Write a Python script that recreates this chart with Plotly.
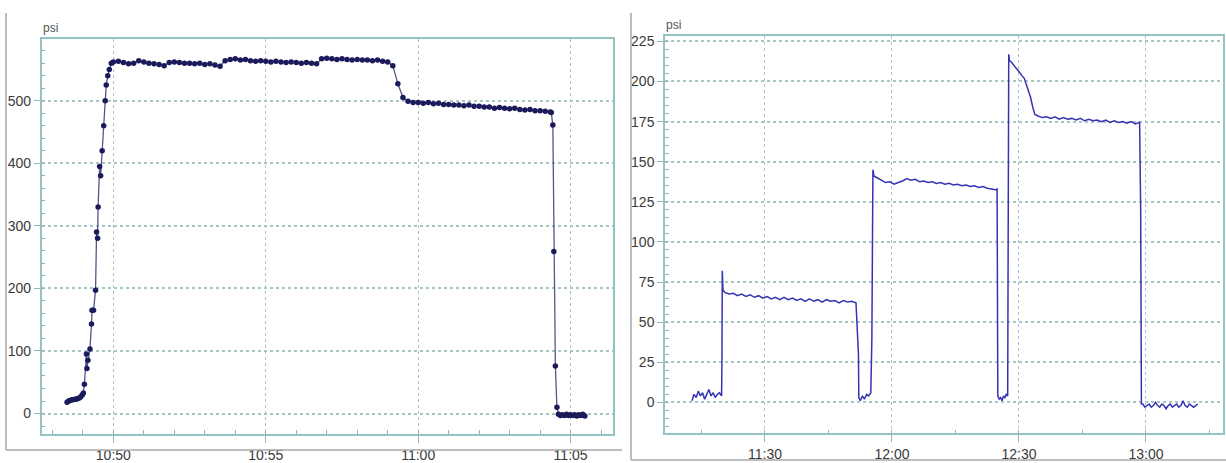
import pandas as pd
import plotly.graph_objects as go

DAY = "2021-01-01 "

# ---------------- Left chart data (psi) ----------------
left_rise_times = ["10:48:29", "10:48:32", "10:48:35", "10:48:38", "10:48:41", "10:48:44", "10:48:47",
                   "10:48:50", "10:48:53", "10:48:56", "10:48:59", "10:49:01", "10:49:03", "10:49:07",
                   "10:49:08", "10:49:10", "10:49:14", "10:49:17", "10:49:18", "10:49:21", "10:49:25",
                   "10:49:27", "10:49:29", "10:49:30", "10:49:33", "10:49:35", "10:49:38", "10:49:41",
                   "10:49:44", "10:49:46", "10:49:49", "10:49:52", "10:49:56"]
left_rise_vals = [18, 20, 21, 22, 22, 23, 23, 24, 25, 27, 30, 33, 47, 95, 72, 85, 103, 143, 165, 165, 197,
                  290, 280, 330, 395, 380, 420, 460, 500, 525, 540, 550, 560]

left_plateau_start = "10:50:00"   # 10 s samples
left_plateau_vals = [562, 563, 561, 559, 560, 564,
                     562, 560, 559, 558, 556, 561,
                     562, 561, 560, 560, 559, 560,
                     558, 559, 557, 555, 564, 566,
                     567, 565, 566, 564, 563, 564,
                     563, 562, 563, 562, 561, 562,
                     561, 560, 561, 560, 559, 567,
                     568, 567, 566, 567, 566, 565,
                     566, 565, 565, 564, 565, 563,
                     562, 556, 527, 505, 499, 497,
                     497, 496, 497, 495, 496, 494,
                     494, 493, 493, 492, 493, 491,
                     491, 490, 490, 488, 489, 488,
                     487, 488, 486, 485, 486, 484,
                     484, 483, 482]

left_drop_times = ["11:04:22", "11:04:25", "11:04:27", "11:04:30", "11:04:33"]
left_drop_vals = [481, 461, 259, 76, 10]

left_tail_start = "11:04:36"      # 4 s samples
left_tail_vals = [-1, -3, -2, -3, -1, -3, -2, -3, -2, -4, -2, -3, -1, -4]

# ---------------- Right chart data (psi) ----------------
right_segments = [
    ("11:12:45", 30, [1, 5, 3, 7, 4, 6, 2, 5, 8, 4, 6, 3, 5, 6, 4]),
    ("11:19:50", 5, [25, 82]),
    ("11:20:05", 25, [70]),
    ("11:20:30", 60, [68.5, 67.5, 68, 66.5, 67.5, 66, 67, 65.5, 66.5, 65, 66, 64.5, 65.5, 64, 65.5, 64,
                      65, 63.5, 64.5, 63, 64.5, 63, 64, 62.5, 64, 63, 63.5, 62, 63.5, 62.5, 63, 62]),
    ("11:52:05", 5, [30, 3]),
    ("11:52:30", 30, [1, 4, 2, 5, 4, 6]),
    ("11:55:15", 15, [40, 145, 141]),
    ("11:56:30", 60, [140, 138.5, 137, 137.5, 136, 137, 138, 139.5, 138.5, 139, 137.5, 138, 137, 137.5,
                      136.5, 137, 136, 136.5, 135.5, 136, 135, 135.5, 134.5, 135, 134, 134.5, 133.5,
                      133, 132.5]),
    ("12:24:50", 5, [133, 60, 4]),
    ("12:25:20", 20, [2, 3, 1, 4, 3, 5, 4]),
    ("12:27:30", 5, [100, 217]),
    ("12:27:45", 30, [213, 212, 210, 208.5, 207, 205, 203.5, 202, 198, 195, 190, 184, 179.5]),
    ("12:34:30", 60, [178.5, 177.5, 178, 177, 178, 176.5, 177.5, 176.5, 177, 176, 177, 175.5, 176.5,
                      175.5, 176, 175, 176, 174.5, 175.5, 174.5, 175, 174, 175, 173.5, 174.5]),
    ("12:58:45", 10, [120, -1]),
    ("12:59:15", 30, [-1, -3, -2, -1, -3, -2, 0, -2, -3, -1, -2, -4, -2, -1, -3, -2, -1, -3, -2, 1,
                      -2, -3, -1, -2, -3, -2, -1]),
]

y_unit = "psi"


def seg(start, step_s, vals):
    t = pd.date_range(DAY + start, periods=len(vals), freq=f"{step_s}s")
    return list(t), list(vals)


# assemble left
lx = [pd.Timestamp(DAY + t) for t in left_rise_times]
ly = list(left_rise_vals)
t, v = seg(left_plateau_start, 10, left_plateau_vals)
lx += t; ly += v
lx += [pd.Timestamp(DAY + t) for t in left_drop_times]; ly += left_drop_vals
t, v = seg(left_tail_start, 4, left_tail_vals)
lx += t; ly += v

# assemble right
rx, ry = [], []
for s, st, vals in right_segments:
    t, v = seg(s, st, vals)
    rx += t; ry += v

fig = go.Figure()
fig.add_trace(go.Scatter(x=lx, y=ly, mode="lines+markers", xaxis="x", yaxis="y",
                         line=dict(color="#55558a", width=1.3),
                         marker=dict(color="#1b1b5c", size=5.5), showlegend=False))
fig.add_trace(go.Scatter(x=rx, y=ry, mode="lines", xaxis="x2", yaxis="y2",
                         line=dict(color="#3434b2", width=1.5), showlegend=False))

W, H = 1226, 463
BORDER = "#93c3c3"
GRID = "#a9c6c6"
TICKC = "#8fb8b8"
FONT = dict(family="Liberation Sans, Arial, sans-serif", size=14, color="#3a3a3a")


def xax(domain, rng, dtick, tick0, mdtick, anchor):
    return dict(domain=domain, range=rng, type="date", anchor=anchor,
                tickformat="%H:%M", dtick=dtick, tick0=tick0,
                ticks="outside", ticklen=7, tickcolor=TICKC,
                showline=True, mirror=True, linecolor=BORDER, linewidth=1.5,
                showgrid=True, gridcolor=GRID, griddash="dot", gridwidth=1,
                zeroline=False, tickfont=FONT,
                minor=dict(dtick=mdtick, tick0=tick0, ticks="inside", ticklen=4,
                           tickcolor=TICKC, showgrid=False))


def yax(domain, rng, dtick, mdtick, anchor):
    return dict(domain=domain, range=rng, anchor=anchor, dtick=dtick, tick0=0,
                ticks="outside", ticklen=6, tickcolor=TICKC,
                showline=True, mirror=True, linecolor=BORDER, linewidth=1.5,
                showgrid=True, gridcolor=GRID, griddash="dot", gridwidth=1.5,
                zeroline=False, tickfont=FONT,
                minor=dict(dtick=mdtick, tick0=0, ticks="inside", ticklen=4,
                           tickcolor=TICKC, showgrid=False))


fig.update_layout(
    width=W, height=H, margin=dict(l=0, r=0, t=0, b=0),
    paper_bgcolor="white", plot_bgcolor="white",
    xaxis=xax([41.7 / W, 613.3 / W], [DAY + "10:47:39", DAY + "11:06:24"],
              300000, DAY + "10:50:00", 60000, "y"),
    yaxis=yax([1 - 434 / H, 1 - 36 / H], [-33, 599], 100, 20, "x"),
    xaxis2=xax([665 / W, 1223.3 / W], [DAY + "11:06:23", DAY + "13:18:16"],
               1800000, DAY + "11:00:00", 900000, "y2"),
    yaxis2=yax([1 - 433.3 / H, 1 - 33.3 / H], [-19.4, 228.3], 25, 5, "x2"),
)

fig.add_annotation(text=y_unit, xref="paper", yref="paper", x=41 / W, y=1 - 25 / H,
                   xanchor="left", yanchor="middle", showarrow=False,
                   font=dict(family="Liberation Sans, Arial", size=12, color="#555"))
fig.add_annotation(text=y_unit, xref="paper", yref="paper", x=664 / W, y=1 - 22 / H,
                   xanchor="left", yanchor="middle", showarrow=False,
                   font=dict(family="Liberation Sans, Arial", size=12, color="#555"))

# panel frames
FRAME = "#a8a8a8"
for x0, y0, x1, y1 in [(6, 10, 6, 450), (6, 450, 622, 450), (631, 10, 631, 460), (631, 460, 1226, 460)]:
    fig.add_shape(type="line", xref="paper", yref="paper",
                  x0=x0 / W, x1=x1 / W, y0=1 - y0 / H, y1=1 - y1 / H,
                  line=dict(color=FRAME, width=1.5))

fig.write_html("out.html", config={"displayModeBar": False},
               post_script="document.body.style.margin='0px';document.body.style.overflow='hidden';")
